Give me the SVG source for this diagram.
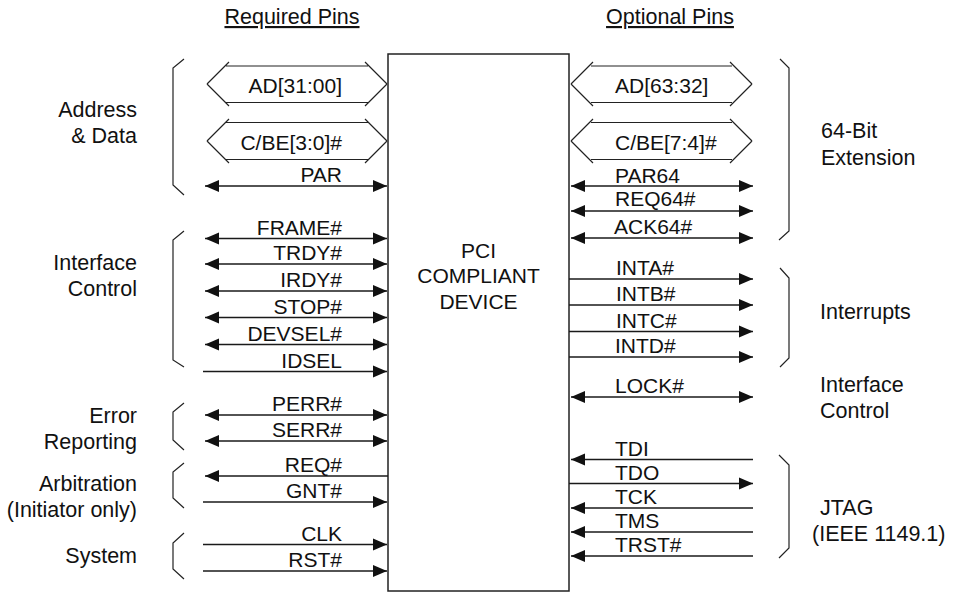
<svg xmlns="http://www.w3.org/2000/svg" width="962" height="594" viewBox="0 0 962 594">
<style>
text{font-family:"Liberation Sans",Arial,sans-serif;fill:#111}
.sig{font-size:21px}
.l{text-anchor:end}
.grp{font-size:21.5px}
.gl{text-anchor:end}
.hdr{font-size:21.5px;text-anchor:middle;text-decoration:underline}
.ln{stroke:#1a1a1a;stroke-width:1.4;fill:none}
.bi{marker-start:url(#ah);marker-end:url(#ah)}
.one{marker-end:url(#ah)}
.br{stroke:#222;stroke-width:1.2;fill:none}
.hx{stroke:#222;stroke-width:1.2;fill:none}
</style>
<defs>
<marker id="ah" markerUnits="userSpaceOnUse" markerWidth="14" markerHeight="13" refX="14" refY="6.5" orient="auto-start-reverse">
<path d="M0,0.5 L14,6.5 L0,12.5 z" fill="#111"/>
</marker>
</defs>
<rect width="962" height="594" fill="#fff"/>

<g id="headers">
<text class="hdr" x="292" y="24">Required Pins</text>
<text class="hdr" x="670" y="24">Optional Pins</text>
</g>

<g id="device">
<rect x="388" y="54" width="181" height="537" fill="#fff" stroke="#222" stroke-width="1.5"/>
<text class="sig" x="478.5" y="258" text-anchor="middle">PCI</text>
<text class="sig" x="478.5" y="283" text-anchor="middle">COMPLIANT</text>
<text class="sig" x="478.5" y="309" text-anchor="middle">DEVICE</text>
</g>

<g id="group-labels">
<text class="grp gl" x="137" y="117">Address</text>
<text class="grp gl" x="137" y="143">&amp; Data</text>
<text class="grp gl" x="137" y="270">Interface</text>
<text class="grp gl" x="137" y="296">Control</text>
<text class="grp gl" x="137" y="423">Error</text>
<text class="grp gl" x="137" y="449">Reporting</text>
<text class="grp gl" x="137" y="491">Arbitration</text>
<text class="grp gl" x="137" y="517">(Initiator only)</text>
<text class="grp gl" x="137" y="563">System</text>
<text class="grp" x="821" y="138">64-Bit</text>
<text class="grp" x="821" y="165">Extension</text>
<text class="grp" x="820" y="319">Interrupts</text>
<text class="grp" x="820" y="392">Interface</text>
<text class="grp" x="820" y="418">Control</text>
<text class="grp" x="820" y="515">JTAG</text>
<text class="grp" x="812" y="541">(IEEE 1149.1)</text>
</g>

<g id="braces">
<polyline class="br" points="184,59 173,68 173,185 184,195"/>
<polyline class="br" points="184,231 173,240 173,360 184,367"/>
<polyline class="br" points="184,403 173,412 173,440 184,450"/>
<polyline class="br" points="184,463 173,472 173,498 184,508"/>
<polyline class="br" points="184,533 173,543 173,569 184,579"/>
<polyline class="br" points="780,59 789,68 789,231 779,240"/>
<polyline class="br" points="780,268 789,278 789,358 780,367"/>
<polyline class="br" points="779,455 789,465 789,548 779,558"/>
</g>

<g id="bus-ad-low">
<path class="hx" d="M226,66 H368 M226,102.5 H368 M207,84 L229,62 M207,84 L229,106 M387,84 L365,62 M387,84 L365,106"/>
<text class="sig l" x="342" y="93">AD[31:00]</text>
</g>
<g id="bus-cbe-low">
<path class="hx" d="M226,122.5 H368 M226,159.5 H368 M207,141 L229,119 M207,141 L229,163 M387,141 L365,119 M387,141 L365,163"/>
<text class="sig l" x="342" y="149.5">C/BE[3:0]#</text>
</g>
<g id="bus-ad-high">
<path class="hx" d="M591,66 H732 M591,102.5 H732 M571,84 L593,62 M571,84 L593,106 M752,84 L730,62 M752,84 L730,106"/>
<text class="sig" x="615" y="93">AD[63:32]</text>
</g>
<g id="bus-cbe-high">
<path class="hx" d="M591,122.5 H732 M591,159.5 H732 M571,141 L593,119 M571,141 L593,163 M752,141 L730,119 M752,141 L730,163"/>
<text class="sig" x="615" y="149.5">C/BE[7:4]#</text>
</g>

<g id="connectors">
<line class="ln bi" x1="205" y1="186" x2="387" y2="186"/>
<line class="ln bi" x1="205" y1="238.5" x2="387" y2="238.5"/>
<line class="ln bi" x1="205" y1="264" x2="387" y2="264"/>
<line class="ln bi" x1="205" y1="291" x2="387" y2="291"/>
<line class="ln bi" x1="205" y1="317.5" x2="387" y2="317.5"/>
<line class="ln bi" x1="205" y1="344.5" x2="387" y2="344.5"/>
<line class="ln one" x1="203" y1="371.5" x2="387" y2="371.5"/>
<line class="ln bi" x1="205" y1="415" x2="387" y2="415"/>
<line class="ln bi" x1="205" y1="441" x2="387" y2="441"/>
<line class="ln one" x1="388" y1="476" x2="205" y2="476"/>
<line class="ln one" x1="203" y1="502" x2="387" y2="502"/>
<line class="ln one" x1="203" y1="544.5" x2="387" y2="544.5"/>
<line class="ln one" x1="203" y1="571" x2="387" y2="571"/>

<line class="ln bi" x1="571" y1="186" x2="753" y2="186"/>
<line class="ln bi" x1="571" y1="211" x2="753" y2="211"/>
<line class="ln bi" x1="571" y1="238" x2="753" y2="238"/>
<line class="ln one" x1="569" y1="279" x2="753" y2="279"/>
<line class="ln one" x1="569" y1="305" x2="753" y2="305"/>
<line class="ln one" x1="569" y1="331.5" x2="753" y2="331.5"/>
<line class="ln one" x1="569" y1="357" x2="753" y2="357"/>
<line class="ln bi" x1="571" y1="397" x2="753" y2="397"/>
<line class="ln one" x1="753" y1="459.5" x2="571" y2="459.5"/>
<line class="ln one" x1="569" y1="483.5" x2="753" y2="483.5"/>
<line class="ln one" x1="753" y1="508" x2="571" y2="508"/>
<line class="ln one" x1="753" y1="532" x2="571" y2="532"/>
<line class="ln one" x1="753" y1="556" x2="571" y2="556"/>
</g>

<g id="pin-labels">
<text class="sig l" x="342" y="182">PAR</text>
<text class="sig l" x="342" y="234.5">FRAME#</text>
<text class="sig l" x="342" y="260">TRDY#</text>
<text class="sig l" x="342" y="287">IRDY#</text>
<text class="sig l" x="342" y="313.5">STOP#</text>
<text class="sig l" x="342" y="340.5">DEVSEL#</text>
<text class="sig l" x="342" y="367.5">IDSEL</text>
<text class="sig l" x="342" y="411">PERR#</text>
<text class="sig l" x="342" y="437">SERR#</text>
<text class="sig l" x="342" y="472">REQ#</text>
<text class="sig l" x="342" y="498">GNT#</text>
<text class="sig l" x="342" y="540.5">CLK</text>
<text class="sig l" x="342" y="567">RST#</text>

<text class="sig" x="615" y="182.5">PAR64</text>
<text class="sig" x="615" y="206">REQ64#</text>
<text class="sig" x="614" y="234">ACK64#</text>
<text class="sig" x="616" y="275">INTA#</text>
<text class="sig" x="616" y="301">INTB#</text>
<text class="sig" x="616" y="327.5">INTC#</text>
<text class="sig" x="615" y="353">INTD#</text>
<text class="sig" x="615" y="393">LOCK#</text>
<text class="sig" x="615" y="455.5">TDI</text>
<text class="sig" x="615" y="479.5">TDO</text>
<text class="sig" x="615" y="504">TCK</text>
<text class="sig" x="615" y="528">TMS</text>
<text class="sig" x="615" y="552">TRST#</text>
</g>
</svg>
